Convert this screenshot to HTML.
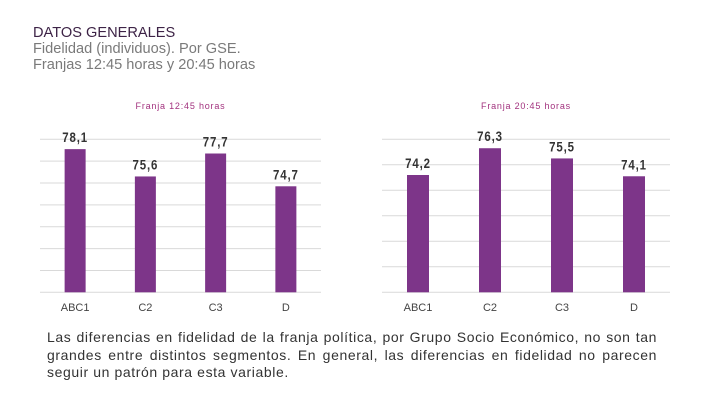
<!DOCTYPE html>
<html><head><meta charset="utf-8">
<style>
body{margin:0;width:720px;height:405px;background:#fff;overflow:hidden;font-family:"Liberation Sans",sans-serif;position:relative}
#hdr{position:absolute;left:33px;top:25px;font-size:14.6px;line-height:16px;color:#7a7a7a}
#hdr .t{color:#3d2346}
#para{position:absolute;left:47px;top:329px;width:610px;font-size:14px;line-height:17.5px;color:#333;text-align:justify;letter-spacing:0.6px}
svg{position:absolute;left:0;top:0}
</style></head><body>
<div id="hdr">
<div class="t">DATOS GENERALES</div>
<div>Fidelidad (individuos). Por GSE.</div>
<div>Franjas 12:45 horas y 20:45 horas</div>
</div>
<svg id="chart" width="720" height="405"></svg>
<div id="para">Las diferencias en fidelidad de la franja política, por Grupo Socio Económico, no son tan grandes entre distintos segmentos. En general, las diferencias en fidelidad no parecen seguir un patrón para esta variable.</div>
<script>
const categories=["ABC1","C2","C3","D"];
const values1=[78.1,75.6,77.7,74.7];
const values2=[74.2,76.3,75.5,74.1];
const labels1=["78,1","75,6","77,7","74,7"];
const labels2=["74,2","76,3","75,5","74,1"];
const titles=["Franja 12:45 horas","Franja 20:45 horas"];
const svg=document.getElementById('chart');
const NS='http://www.w3.org/2000/svg';
function mk(t,a){const e=document.createElementNS(NS,t);for(const k in a)e.setAttribute(k,a[k]);svg.appendChild(e);return e;}
function draw(idx,vals,labs,x0,x1,vmin,vmax,step,barW){
  const yTop=139.3,yBot=292.3;
  const y=v=>yBot-(v-vmin)/(vmax-vmin)*(yBot-yTop);
  const cw=(x1-x0)/categories.length;
  const xc=i=>x0+cw*(i+0.5);
  for(let v=vmin;v<=vmax+0.001;v+=step){
    const g=mk('line',{x1:x0,x2:x1,y1:y(v),y2:y(v),stroke:'#d9d9d9','stroke-width':1});
    
    
  }
  const t=mk('text',{x:(x0+x1)/2,y:109,'text-anchor':'middle','font-size':9,fill:'#a2327e','letter-spacing':'0.8'});
  t.textContent=titles[idx];
  
  
  vals.forEach((v,i)=>{
    const b=mk('rect',{x:xc(i)-barW/2,y:y(v),width:barW,height:yBot-y(v),fill:'#7d3589'});
    
    
    const l=mk('text',{x:xc(i),y:y(v)-7,'text-anchor':'middle','font-size':13.5,'font-weight':'bold',fill:'#333','letter-spacing':'1',transform:'translate('+xc(i)+' 0) scale(0.85 1) translate('+(-xc(i))+' 0)'});
    l.textContent=labs[i];
    
    
    const c=mk('text',{x:xc(i),y:311,'text-anchor':'middle','font-size':11,fill:'#444'});
    c.textContent=categories[i];
    
    
  });
}
draw(0,values1,labels1,40,321,65,79,2,21);
draw(1,values2,labels2,382,670,65,77,2,22);
</script>
</body></html>
